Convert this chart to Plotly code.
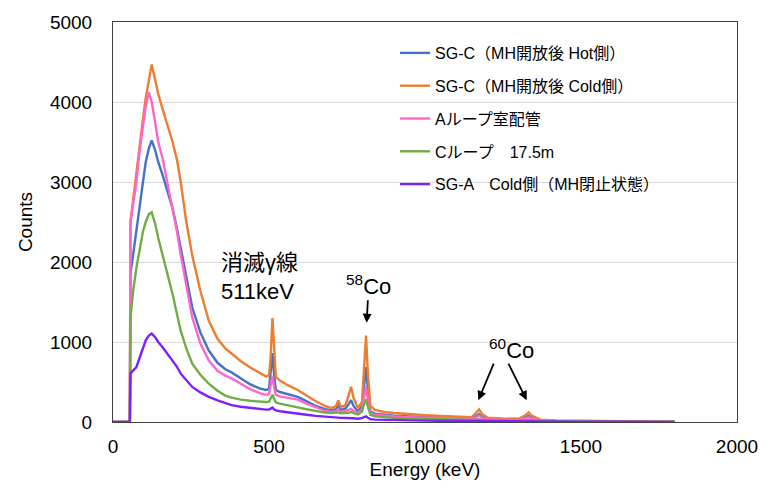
import plotly.graph_objects as go

energy = [0, 54, 56, 65, 75, 85, 96, 105, 115, 124, 135, 145, 159, 175, 191, 205, 217, 235, 254, 280,
          307, 335, 360, 380, 410, 440, 470, 490, 500, 505, 511, 517, 522, 535, 560, 592, 620, 650, 680,
          700, 715, 722, 730, 745, 755, 763, 771, 785, 798, 805, 811, 817, 825, 840, 870, 900, 950, 1000,
          1050, 1100, 1150, 1163, 1173, 1183, 1200, 1250, 1300, 1322, 1332, 1342, 1370, 1420, 1500, 1600,
          1700, 1800]

sgc_hot = [0, 0, 1850, 2100, 2340, 2680, 3000, 3250, 3420, 3520, 3400, 3250, 3085, 2880, 2670, 2420, 2175,
           1800, 1431, 1120, 893, 740, 660, 620, 540, 470, 420, 400, 410, 600, 860, 560, 400, 375, 345, 314,
           260, 200, 160, 149, 160, 200, 150, 170, 220, 273, 200, 130, 200, 450, 686, 400, 130, 105, 90, 80,
           70, 62, 55, 48, 42, 70, 100, 65, 38, 32, 28, 55, 75, 50, 20, 14, 10, 7, 4, 2]

sgc_cold = [0, 0, 2500, 2800, 3085, 3450, 3790, 4050, 4300, 4470, 4280, 4100, 3910, 3700, 3500, 3280, 3000,
            2500, 2080, 1640, 1265, 1040, 920, 856, 760, 680, 610, 570, 580, 800, 1300, 850, 560, 520, 460,
            400, 330, 260, 200, 174, 200, 270, 190, 210, 330, 440, 300, 175, 250, 700, 1079, 600, 200, 150,
            125, 112, 95, 85, 75, 65, 60, 110, 157, 100, 55, 45, 40, 85, 120, 80, 30, 20, 15, 10, 6, 3]

a_loop = [0, 0, 2500, 2750, 3000, 3380, 3706, 3950, 4120, 4000, 3750, 3500, 3292, 2980, 2671, 2380, 2093,
          1700, 1307, 980, 769, 640, 580, 545, 475, 410, 360, 340, 350, 450, 580, 420, 340, 320, 300, 280,
          230, 180, 140, 125, 135, 160, 125, 135, 150, 165, 140, 110, 160, 330, 440, 280, 110, 90, 78, 70,
          60, 53, 47, 42, 37, 55, 80, 50, 33, 28, 24, 45, 60, 40, 18, 12, 9, 6, 4, 2]

c_loop = [0, 0, 1300, 1650, 1927, 2150, 2382, 2500, 2600, 2620, 2480, 2300, 2093, 1850, 1597, 1350, 1141,
          920, 728, 590, 480, 390, 330, 305, 280, 265, 255, 250, 255, 290, 340, 280, 245, 230, 205, 182,
          160, 135, 118, 112, 112, 120, 108, 110, 115, 125, 110, 95, 130, 230, 285, 190, 90, 70, 60, 52,
          44, 38, 33, 29, 26, 30, 36, 27, 22, 18, 16, 20, 25, 18, 12, 8, 6, 4, 3, 1]

sga_cold = [0, 0, 608, 640, 686, 800, 934, 1020, 1080, 1104, 1060, 1000, 934, 850, 769, 690, 604, 520, 438,
            370, 314, 270, 232, 210, 190, 175, 162, 155, 155, 165, 180, 155, 145, 135, 120, 105, 90, 76,
            64, 58, 55, 55, 52, 50, 50, 52, 46, 40, 48, 62, 70, 52, 35, 30, 26, 23, 20, 17, 15, 13, 11, 11,
            13, 10, 9, 8, 7, 7, 8, 7, 6, 5, 4, 3, 2, 1]

names = ["SG-C（MH開放後 Hot側）", "SG-C（MH開放後 Cold側）", "Aループ室配管", "Cループ　17.5m",
         "SG-A　Cold側（MH閉止状態）"]
series = [sgc_hot, sgc_cold, a_loop, c_loop, sga_cold]
colors = ["#4472C4", "#ED7D31", "#FF66CC", "#70AD47", "#7F1FFF"]

FONT = "Liberation Sans, Arial, Noto Sans CJK JP, sans-serif"

fig = go.Figure()
for i, (nm, ys, col) in enumerate(zip(names, series, colors)):
    fig.add_trace(go.Scatter(x=energy, y=ys, mode="lines", name=nm, legendgroup=f"g{i}",
                             line=dict(color=col, width=2.4)))

fig.update_layout(
    width=770, height=489,
    margin=dict(l=113, r=25, t=20, b=67),
    paper_bgcolor="white", plot_bgcolor="white",
    font=dict(family=FONT, size=19, color="black"),
    showlegend=True,
    legend=dict(x=0.452, y=0.965, xanchor="left", yanchor="top", bgcolor="rgba(0,0,0,0)",
                font=dict(size=16, family=FONT), tracegroupgap=9, traceorder="grouped"),
    xaxis=dict(range=[0, 2000], tickvals=[0, 500, 1000, 1500, 2000], showgrid=False,
               showline=True, linecolor="#404040", linewidth=1, mirror=True, ticks="",
               zeroline=False, ticklabelstandoff=7,
               title=dict(text="Energy (keV)", font=dict(size=19), standoff=6)),
    yaxis=dict(range=[0, 5000], tickvals=[0, 1000, 2000, 3000, 4000, 5000], showgrid=True,
               gridcolor="#D9D9D9", gridwidth=1, showline=True, linecolor="#404040", linewidth=1,
               mirror=True, ticks="", zeroline=False, ticklabelstandoff=16,
               title=dict(text="Counts", font=dict(size=19), standoff=12)),
)

fig.add_annotation(x=339, y=1811, text="消滅γ線<br>511keV", showarrow=False, xanchor="left",
                   yanchor="middle", align="left", font=dict(size=22))
fig.add_annotation(x=813, y=1241, text="<sup>58</sup>Co", showarrow=True, ax=2, ay=-38,
                   standoff=0, arrowhead=2, arrowsize=1, arrowwidth=1.8, arrowcolor="black",
                   font=dict(size=22))
fig.add_annotation(x=1278, y=918, text="<sup>60</sup>Co", showarrow=False, xanchor="center",
                   yanchor="middle", font=dict(size=22))
fig.add_annotation(x=1171, y=273, text="", showarrow=True, ax=16, ay=-38, arrowhead=2,
                   arrowsize=1, arrowwidth=1.8, arrowcolor="black")
fig.add_annotation(x=1326, y=273, text="", showarrow=True, ax=-19, ay=-38, arrowhead=2,
                   arrowsize=1, arrowwidth=1.8, arrowcolor="black")

fig.write_html("out.html")
